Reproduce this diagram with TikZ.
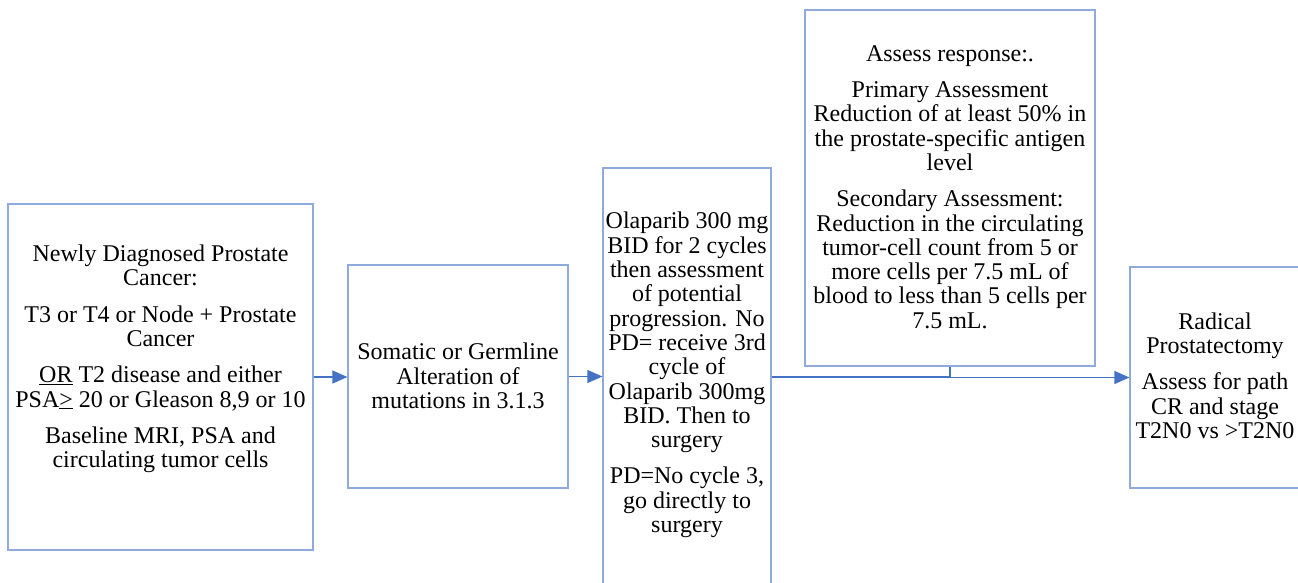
\documentclass[tikz,border=0pt]{standalone}
\usepackage{fontspec}
\setmainfont{Liberation Serif}
\usetikzlibrary{arrows.meta}
\definecolor{boxline}{RGB}{143,170,220}
\definecolor{conn}{RGB}{68,114,196}
\begin{document}
\begin{tikzpicture}[x=1pt,y=-1pt,
  box/.style={draw=boxline,line width=1.2pt,fill=none,inner sep=0pt,rectangle},
  txt/.style={inner sep=0pt,align=center,font=\fontsize{24}{24.3}\selectfont},
  connline/.style={draw=conn,line width=1.3pt},
  connarrow/.style={connline,-{Triangle[length=15pt,width=13pt]}}]
\clip (0,0) rectangle (1298,582);
% boxes
\node[box,minimum width=305pt,minimum height=346pt] (b1) at (160.5,377) {};
\node[box,minimum width=220pt,minimum height=223pt] (b2) at (458,376.5) {};
\node[box,minimum width=168pt,minimum height=418pt] (b3) at (687,377) {};
\node[box,minimum width=290pt,minimum height=356pt] (b4) at (950,188) {};
\node[box,minimum width=170pt,minimum height=221pt] (b5) at (1215,377.5) {};
% texts
\node[txt] (t1) at (160.5,359) {Newly Diagnosed Prostate\\Cancer:\\[12pt]
T3 or T4 or Node + Prostate\\Cancer\\[12pt]
\underline{OR} T2 disease and either\\PSA\underline{>} 20 or Gleason 8,9 or 10\\[12pt]
Baseline MRI, PSA and\\circulating tumor cells};
\node[txt] (t2) at (458,376) {Somatic or Germline\\Alteration of\\mutations in 3.1.3};
\node[txt] (t3) at (687,375) {Olaparib 300 mg\\BID for 2 cycles\\then assessment\\of potential\\progression. No\\PD= receive 3rd\\cycle of\\Olaparib 300mg\\BID. Then to\\surgery\\[12pt]
PD=No cycle 3,\\go directly to\\surgery};
\node[txt] (t4) at (950,187) {Assess response:.\\[12pt]
Primary Assessment\\Reduction of at least 50\% in\\the prostate-specific antigen\\level\\[12pt]
Secondary Assessment:\\Reduction in the circulating\\tumor-cell count from 5 or\\more cells per 7.5 mL of\\blood to less than 5 cells per\\7.5 mL.};
\node[txt] (t5) at (1215,375.5) {Radical\\Prostatectomy\\[12pt]
Assess for path\\CR and stage\\T2N0 vs >T2N0};
% connectors
\draw[connarrow] (b1.east) -- (b1.east -| b2.west);
\draw[connarrow] (b2.east) -- (b2.east -| b3.west);
\draw[connline] (b3.east) -| (b4.south);
\draw[connarrow] (b4.south) |- (b5.west);
\end{tikzpicture}
\end{document}
